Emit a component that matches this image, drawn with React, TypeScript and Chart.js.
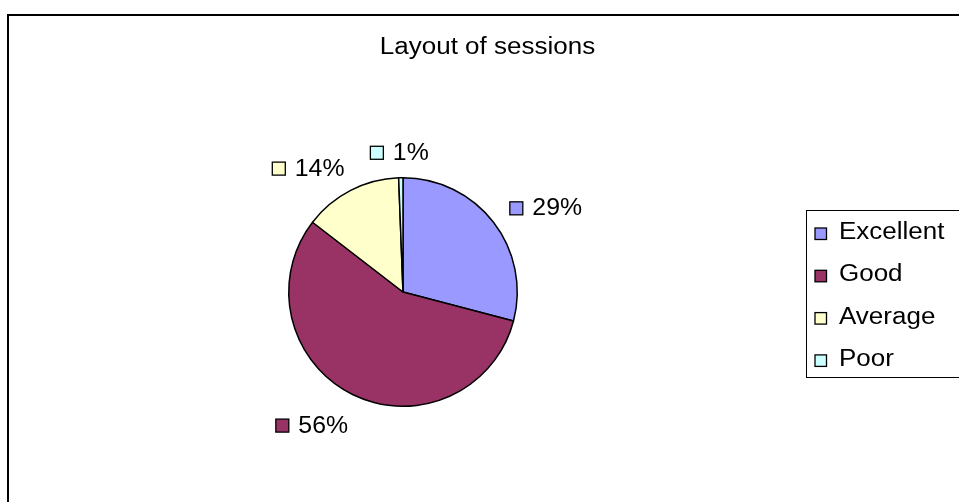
import React, { useEffect, useRef } from "react";
import { Chart, registerables } from "chart.js";

Chart.register(...registerables);

const categories = ["Excellent", "Good", "Average", "Poor"];
const sessionCounts = [48, 93, 23, 1];
const sliceColors = ["#9999FF", "#993366", "#FFFFCC", "#CCFFFF"];
const chartTitle = "Layout of sessions";

const FONT = '"Liberation Sans", Arial, sans-serif';
const W = 959;
const H = 502;

function drawText(ctx: CanvasRenderingContext2D, text: string, x: number, y: number, size: number, sx: number, align: string = "left") {
  ctx.save();
  ctx.font = `${size}px ${FONT}`;
  const w = ctx.measureText(text).width * sx;
  const x0 = align === "center" ? x - w / 2 : x;
  ctx.translate(x0, y);
  ctx.scale(sx, 1);
  ctx.textAlign = "left";
  ctx.textBaseline = "alphabetic";
  ctx.fillStyle = "#000";
  ctx.fillText(text, 0, 0);
  ctx.restore();
  return w;
}

function measure(ctx: CanvasRenderingContext2D, text: string, size: number, sx: number) {
  ctx.save();
  ctx.font = `${size}px ${FONT}`;
  const w = ctx.measureText(text).width * sx;
  ctx.restore();
  return w;
}

function swatch(ctx: CanvasRenderingContext2D, x: number, y: number, size: number, color: string) {
  ctx.save();
  ctx.fillStyle = color;
  ctx.fillRect(x + 0.5, y + 0.5, size, size);
  ctx.strokeStyle = "#000";
  ctx.lineWidth = 1.3;
  ctx.strokeRect(x + 0.5, y + 0.5, size, size);
  ctx.restore();
}

const decorPlugin = {
  id: "decor",
  afterDraw(chart: any) {
    const ctx: CanvasRenderingContext2D = chart.ctx;
    // outer frame
    ctx.save();
    ctx.strokeStyle = "#000";
    ctx.lineWidth = 2;
    ctx.strokeRect(8, 15, 1200, 1200);
    ctx.restore();

    // title
    drawText(ctx, chartTitle, 487.5, 54, 23, 1.13, "center");

    // data labels
    const meta = chart.getDatasetMeta(0);
    const data: number[] = chart.data.datasets[0].data;
    const total = data.reduce((a, b) => a + b, 0);
    meta.data.forEach((arc: any, i: number) => {
      const p = arc.getProps(["x", "y", "startAngle", "endAngle", "outerRadius"], true);
      const mid = (p.startAngle + p.endAngle) / 2;
      const dist = p.outerRadius + 20;
      const ax = p.x + Math.cos(mid) * dist;
      const ay = p.y + Math.sin(mid) * dist;
      const sT = Math.cos(mid);
      const cT = -Math.sin(mid);
      const text = Math.round((data[i] / total) * 100) + "%";
      const tw = measure(ctx, text, 23, 1.08);
      const w = 13 + 10 + tw;
      const h = 17;
      const k = Math.max(-1, Math.min(1, 2 * sT));
      const xl = ax - (w * (1 - k)) / 2;
      const yt = ay - (h * (1 + cT)) / 2 + (cT < 0 ? 4 : 2);
      swatch(ctx, xl, yt + 3, 13, sliceColors[i]);
      drawText(ctx, text, xl + 23, yt + 17, 23, 1.08);
    });

    // legend
    ctx.save();
    ctx.strokeStyle = "#000";
    ctx.lineWidth = 1;
    ctx.strokeRect(806.5, 210.5, 300, 167);
    ctx.restore();
    categories.forEach((c, i) => {
      const base = 239 + i * 42.3;
      swatch(ctx, 814.5, base - 11.5, 11.5, sliceColors[i]);
      drawText(ctx, c, 839, base, 23, 1.13);
    });
  },
};

export default function App() {
  const ref = useRef<HTMLCanvasElement | null>(null);
  useEffect(() => {
    if (!ref.current) return;
    const chart = new Chart(ref.current, {
      type: "pie",
      data: {
        labels: categories,
        datasets: [
          {
            data: sessionCounts,
            backgroundColor: sliceColors,
            borderColor: "#000",
            borderWidth: 1.5,
          },
        ],
      },
      options: {
        responsive: false,
        animation: false,
        events: [],
        layout: { padding: { left: 288, right: W - 518, top: 177, bottom: H - 407 } },
        plugins: {
          legend: { display: false },
          title: { display: false },
          tooltip: { enabled: false },
        },
      },
      plugins: [decorPlugin],
    });
    return () => chart.destroy();
  }, []);
  return (
    <div style={{ position: "fixed", left: 0, top: 0, width: W, height: H, overflow: "hidden", background: "#fff" }}>
      <canvas ref={ref} width={W} height={H} style={{ display: "block", width: W, height: H }} />
    </div>
  );
}
